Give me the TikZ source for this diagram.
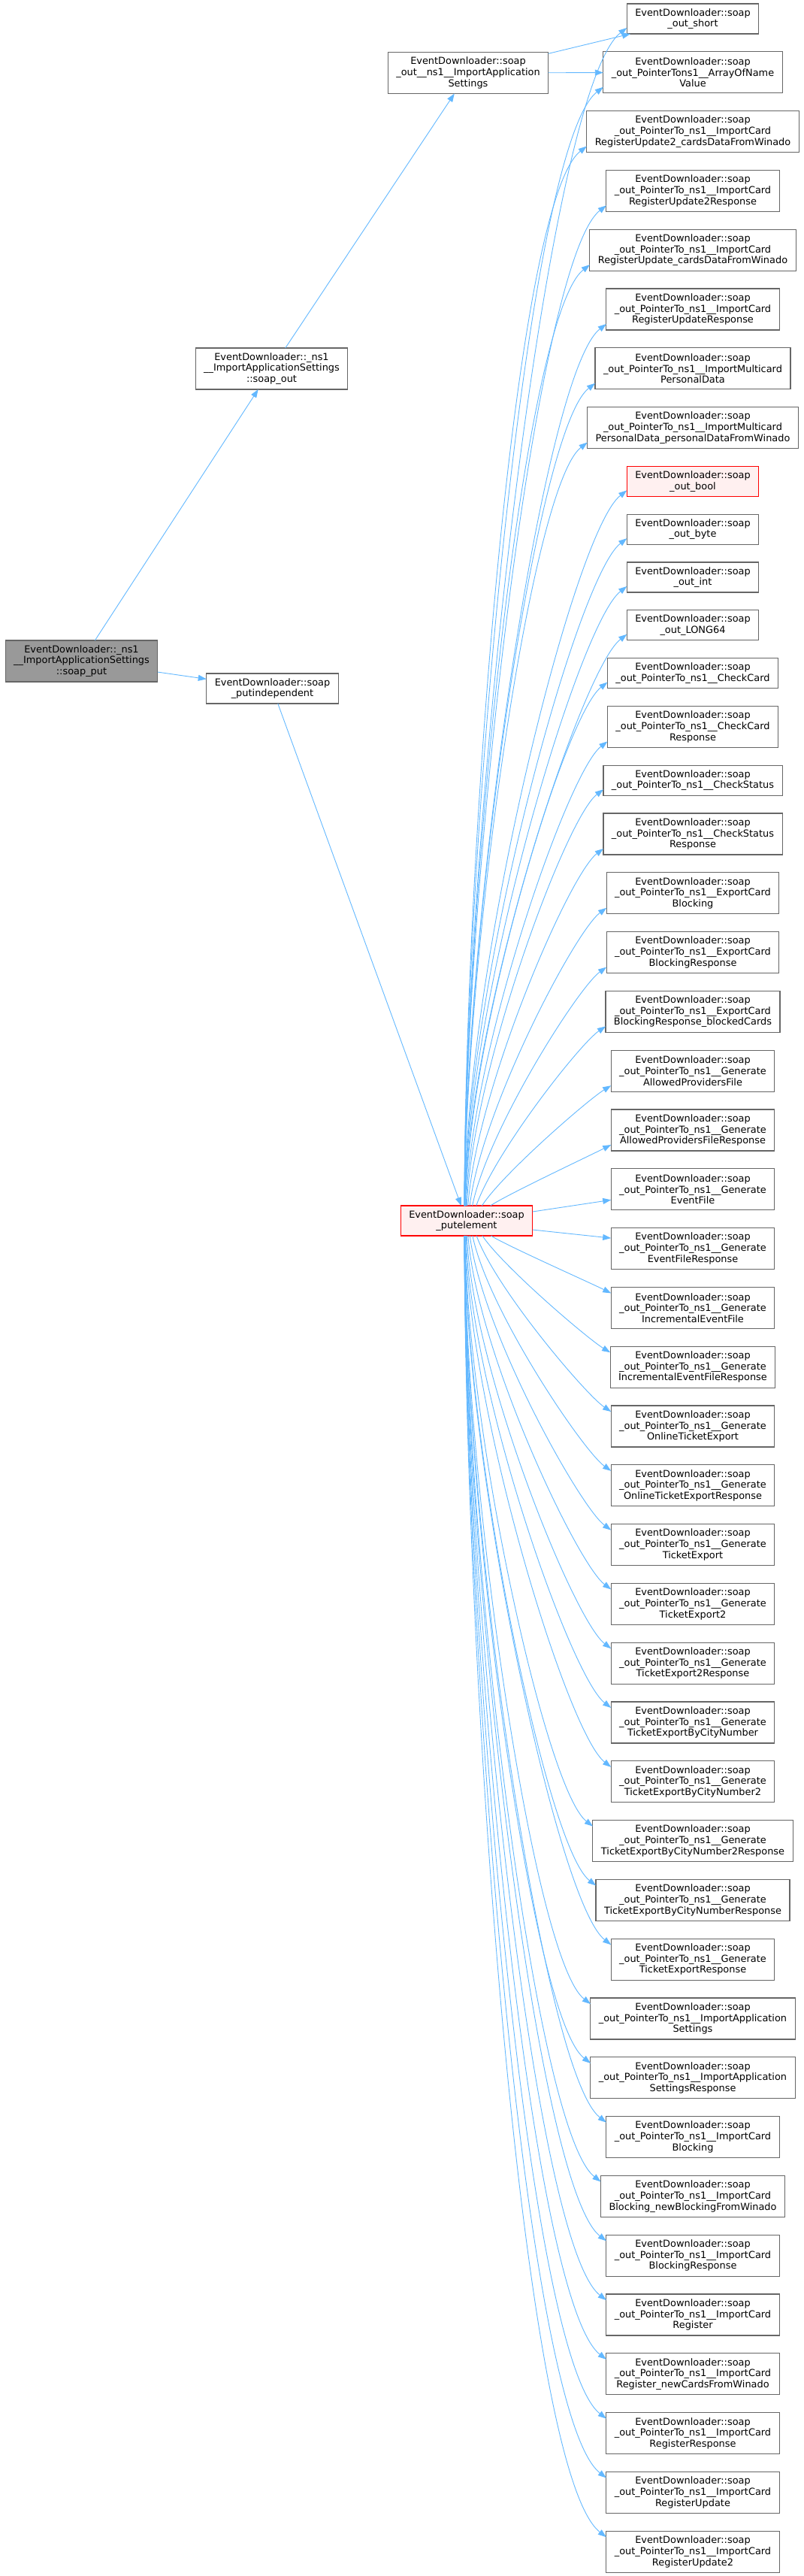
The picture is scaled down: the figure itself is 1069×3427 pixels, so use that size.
\documentclass[tikz,border=0pt]{standalone}
\usepackage{fontspec}
\setmainfont{DejaVu Sans}
\usetikzlibrary{positioning,arrows.meta}
\definecolor{callblue}{HTML}{63B8FF}
\definecolor{boxgray}{HTML}{666666}
\definecolor{curgray}{HTML}{999999}
\definecolor{hlfill}{HTML}{FFF0F0}
\newcommand{\eds}{EventDownloader::soap}
\newcommand{\ptr}{\_out\_PointerTo\_ns1\_\_}
\newdimen\tgy
\newdimen\ply

\begin{document}
\begin{tikzpicture}[
        x=1pt, y=-1pt,
        font=\fontsize{12.9}{14.7}\selectfont,
        node distance=23.8pt,
        fn/.style={draw=boxgray, line width=1.1pt, fill=white, align=center, inner xsep=11pt, inner ysep=3pt, outer sep=0pt, minimum height=40pt},
        fn3/.style={fn, minimum height=55pt},
        hl/.style={draw=red, fill=hlfill},
        cur/.style={fill=curgray},
        call/.style={draw=callblue, line width=0.9pt, -{Triangle[length=11pt,width=8pt]}}
    ]
    \useasboundingbox (0,0) rectangle (1069,3427);

    % Nodes
    \node[fn3, cur] (put) at (108.5,879.5) {EventDownloader::\_ns1\\\_\_ImportApplicationSettings\\::soap\_put};
    \node[fn3] (out) at (361.5,490.5) {EventDownloader::\_ns1\\\_\_ImportApplicationSettings\\::soap\_out};
    \node[fn] (putind) at (362.5,916) {\eds\\\_putindependent};
    \node[fn3] (outns) at (623,97) {\eds\\\_out\_\_ns1\_\_ImportApplication\\Settings};
    \node[fn, hl] (putel) at (621,1624) {\eds\\\_putelement};

    \node[fn] (t1) at (922,25) {\eds\\\_out\_short};
    \node[fn3, below=of t1] (t2) {\eds\\\_out\_PointerTons1\_\_ArrayOfName\\Value};
    \node[fn3, below=of t2] (t3) {\eds\\\ptr ImportCard\\RegisterUpdate2\_cardsDataFromWinado};
    \node[fn3, below=of t3] (t4) {\eds\\\ptr ImportCard\\RegisterUpdate2Response};
    \node[fn3, below=of t4] (t5) {\eds\\\ptr ImportCard\\RegisterUpdate\_cardsDataFromWinado};
    \node[fn3, below=of t5] (t6) {\eds\\\ptr ImportCard\\RegisterUpdateResponse};
    \node[fn3, below=of t6] (t7) {\eds\\\ptr ImportMulticard\\PersonalData};
    \node[fn3, below=of t7] (t8) {\eds\\\ptr ImportMulticard\\PersonalData\_personalDataFromWinado};
    \node[fn, hl, below=of t8] (t9) {\eds\\\_out\_bool};
    \node[fn, below=of t9] (t10) {\eds\\\_out\_byte};
    \node[fn, below=of t10] (t11) {\eds\\\_out\_int};
    \node[fn, below=of t11] (t12) {\eds\\\_out\_LONG64};
    \node[fn, below=of t12] (t13) {\eds\\\ptr CheckCard};
    \node[fn3, below=of t13] (t14) {\eds\\\ptr CheckCard\\Response};
    \node[fn, below=of t14] (t15) {\eds\\\ptr CheckStatus};
    \node[fn3, below=of t15] (t16) {\eds\\\ptr CheckStatus\\Response};
    \node[fn3, below=of t16] (t17) {\eds\\\ptr ExportCard\\Blocking};
    \node[fn3, below=of t17] (t18) {\eds\\\ptr ExportCard\\BlockingResponse};
    \node[fn3, below=of t18] (t19) {\eds\\\ptr ExportCard\\BlockingResponse\_blockedCards};
    \node[fn3, below=of t19] (t20) {\eds\\\ptr Generate\\AllowedProvidersFile};
    \node[fn3, below=of t20] (t21) {\eds\\\ptr Generate\\AllowedProvidersFileResponse};
    \node[fn3, below=of t21] (t22) {\eds\\\ptr Generate\\EventFile};
    \node[fn3, below=of t22] (t23) {\eds\\\ptr Generate\\EventFileResponse};
    \node[fn3, below=of t23] (t24) {\eds\\\ptr Generate\\IncrementalEventFile};
    \node[fn3, below=of t24] (t25) {\eds\\\ptr Generate\\IncrementalEventFileResponse};
    \node[fn3, below=of t25] (t26) {\eds\\\ptr Generate\\OnlineTicketExport};
    \node[fn3, below=of t26] (t27) {\eds\\\ptr Generate\\OnlineTicketExportResponse};
    \node[fn3, below=of t27] (t28) {\eds\\\ptr Generate\\TicketExport};
    \node[fn3, below=of t28] (t29) {\eds\\\ptr Generate\\TicketExport2};
    \node[fn3, below=of t29] (t30) {\eds\\\ptr Generate\\TicketExport2Response};
    \node[fn3, below=of t30] (t31) {\eds\\\ptr Generate\\TicketExportByCityNumber};
    \node[fn3, below=of t31] (t32) {\eds\\\ptr Generate\\TicketExportByCityNumber2};
    \node[fn3, below=of t32] (t33) {\eds\\\ptr Generate\\TicketExportByCityNumber2Response};
    \node[fn3, below=of t33] (t34) {\eds\\\ptr Generate\\TicketExportByCityNumberResponse};
    \node[fn3, below=of t34] (t35) {\eds\\\ptr Generate\\TicketExportResponse};
    \node[fn3, below=of t35] (t36) {\eds\\\ptr ImportApplication\\Settings};
    \node[fn3, below=of t36] (t37) {\eds\\\ptr ImportApplication\\SettingsResponse};
    \node[fn3, below=of t37] (t38) {\eds\\\ptr ImportCard\\Blocking};
    \node[fn3, below=of t38] (t39) {\eds\\\ptr ImportCard\\Blocking\_newBlockingFromWinado};
    \node[fn3, below=of t39] (t40) {\eds\\\ptr ImportCard\\BlockingResponse};
    \node[fn3, below=of t40] (t41) {\eds\\\ptr ImportCard\\Register};
    \node[fn3, below=of t41] (t42) {\eds\\\ptr ImportCard\\Register\_newCardsFromWinado};
    \node[fn3, below=of t42] (t43) {\eds\\\ptr ImportCard\\RegisterResponse};
    \node[fn3, below=of t43] (t44) {\eds\\\ptr ImportCard\\RegisterUpdate};
    \node[fn3, below=of t44] (t45) {\eds\\\ptr ImportCard\\RegisterUpdate2};

    % Edges
    \draw[call] (put) -- (out);
    \draw[call] (put) -- (putind);
    \draw[call] (out) -- (outns);
    \draw[call] (outns) -- (t1);
    \draw[call] (outns) -- (t2);
    \draw[call] (putind) -- (putel);

    \foreach \i in {1,...,45}{
        \pgfextracty{\ply}{\pgfpointanchor{putel}{center}}
        \pgfextracty{\tgy}{\pgfpointanchor{t\i}{center}}
        \pgfmathsetmacro{\dc}{\tgy-\ply}
        \ifdim\dc pt>0pt
            % callee above
            \pgfextracty{\tgy}{\pgfpointanchor{t\i}{south}}
            \pgfmathsetmacro{\dv}{max(\tgy-\ply-20,1)}
        \else
            % callee below
            \pgfextracty{\tgy}{\pgfpointanchor{t\i}{north}}
            \pgfmathsetmacro{\dv}{max(\ply-\tgy-20,1)}
        \fi
        \pgfmathsetmacro{\sx}{-3+50*exp(max(-\dv/200,-7))}
        \pgfmathsetmacro{\ao}{90-90*exp(max(-\dv/150,-7))}
        \pgfmathsetmacro{\ai}{38-18*exp(max(-\dv/150,-7))}
        \pgfmathsetmacro{\od}{0.33*\dv}
        \pgfmathsetmacro{\id}{0.07*\dv+25}
        \ifdim\dc pt>60pt
            \draw[call] ([xshift=\sx pt]putel.north) .. controls +(\ao:\od pt) and +(180+\ai:\id pt) .. ([yshift=8pt]t\i.south west);
        \else\ifdim\dc pt<-60pt
            \draw[call] ([xshift=\sx pt]putel.south) .. controls +(-\ao:\od pt) and +(180-\ai:\id pt) .. ([yshift=-8pt]t\i.north west);
        \else\ifdim\dc pt>0pt
            \draw[call] ([yshift=12pt]putel.east) -- ([yshift=-14pt]t\i.west);
        \else
            \draw[call] ([yshift=-12pt]putel.east) -- ([yshift=14pt]t\i.west);
        \fi\fi\fi
    }

\end{tikzpicture}
\end{document}
